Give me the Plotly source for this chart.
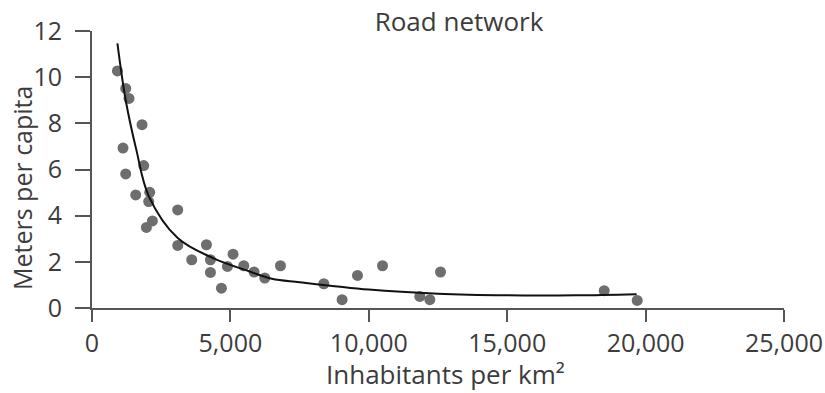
import plotly.graph_objects as go

# Observed data points (inhabitants per km², meters of road per capita)
density = [918, 1218, 1337, 1807, 1120, 1868, 1218, 1579, 2085, 2049, 1965, 2182,
           3097, 3097, 3603, 4134, 4279, 4279, 4676, 4893, 5096, 5482, 5855, 6242,
           6809, 8374, 9035, 9591, 10495, 11843, 12205, 12591, 18504, 19697]
meters = [10.27, 9.51, 9.08, 7.94, 6.93, 6.17, 5.81, 4.90, 5.01, 4.61, 3.49, 3.77,
          4.25, 2.71, 2.09, 2.74, 2.09, 1.54, 0.86, 1.80, 2.33, 1.83, 1.56, 1.30,
          1.83, 1.05, 0.36, 1.41, 1.83, 0.50, 0.36, 1.56, 0.75, 0.33]

# Fitted curve
curve_x = [918, 1218, 1604, 2050, 3097, 4373, 5699, 6500, 7500, 10000, 12500, 15000, 17500, 19675]
curve_y = [11.46, 9.0, 6.84, 4.85, 3.03, 2.16, 1.58, 1.27, 1.12, 0.80, 0.62, 0.55, 0.55, 0.60]

x_ticks = [0, 5000, 10000, 15000, 20000, 25000]
x_tick_labels = ["0", "5,000", "10,000", "15,000", "20,000", "25,000"]
y_ticks = [0, 2, 4, 6, 8, 10, 12]

FONT = "Open Sans"
TXT = "#3c3c3c"
AX = "#555555"
W, H = 825, 393
L, R, T, B = 92, 41, 31, 85
PW, PH = W - L - R, H - T - B


def px_to_paper_x(px):
    return (px - L) / PW


def px_to_paper_y(py):
    return (H - B - py) / PH


fig = go.Figure()
fig.add_trace(go.Scatter(x=density, y=meters, mode="markers",
                         marker=dict(size=11, color="#6e6e6e"),
                         showlegend=False, cliponaxis=False))
fig.add_trace(go.Scatter(x=curve_x, y=curve_y, mode="lines",
                         line=dict(color="#111111", width=2, shape="spline"),
                         showlegend=False, cliponaxis=False))

fig.update_layout(
    width=W, height=H,
    margin=dict(l=L, r=R, t=T, b=B, autoexpand=False),
    plot_bgcolor="white", paper_bgcolor="white",
    font=dict(family=FONT, color=TXT),
    title=dict(text="Road network", x=459 / W, xanchor="center",
               y=1 - 22 / H, yanchor="middle", font=dict(size=26, color=TXT),
               automargin=False),
    xaxis=dict(range=[0, 25000], tickvals=x_ticks, ticktext=x_tick_labels,
               automargin=False,
               showgrid=False, zeroline=False, showline=True, linecolor=AX, linewidth=2,
               ticks="outside", ticklen=12, tickwidth=2, tickcolor=AX,
               tickfont=dict(size=25, color=TXT)),
    yaxis=dict(range=[0, 12], tickvals=y_ticks, automargin=False,
               showgrid=False, zeroline=False, showline=True, linecolor=AX, linewidth=2,
               ticks="outside", ticklen=15, tickwidth=2, tickcolor=AX,
               ticklabelstandoff=8,
               tickfont=dict(size=25, color=TXT)),
    annotations=[
        dict(text="Inhabitants per km²", xref="paper", yref="paper",
             x=px_to_paper_x(445), y=px_to_paper_y(374), xanchor="center", yanchor="middle",
             showarrow=False, font=dict(size=26, color=TXT)),
        dict(text="Meters per capita", xref="paper", yref="paper", textangle=-90,
             x=px_to_paper_x(22), y=px_to_paper_y(188), xanchor="center", yanchor="middle",
             showarrow=False, font=dict(size=25, color=TXT)),
    ],
)

fig.write_html("out.html", config={"displayModeBar": False},
               post_script="document.body.style.margin='0';")
